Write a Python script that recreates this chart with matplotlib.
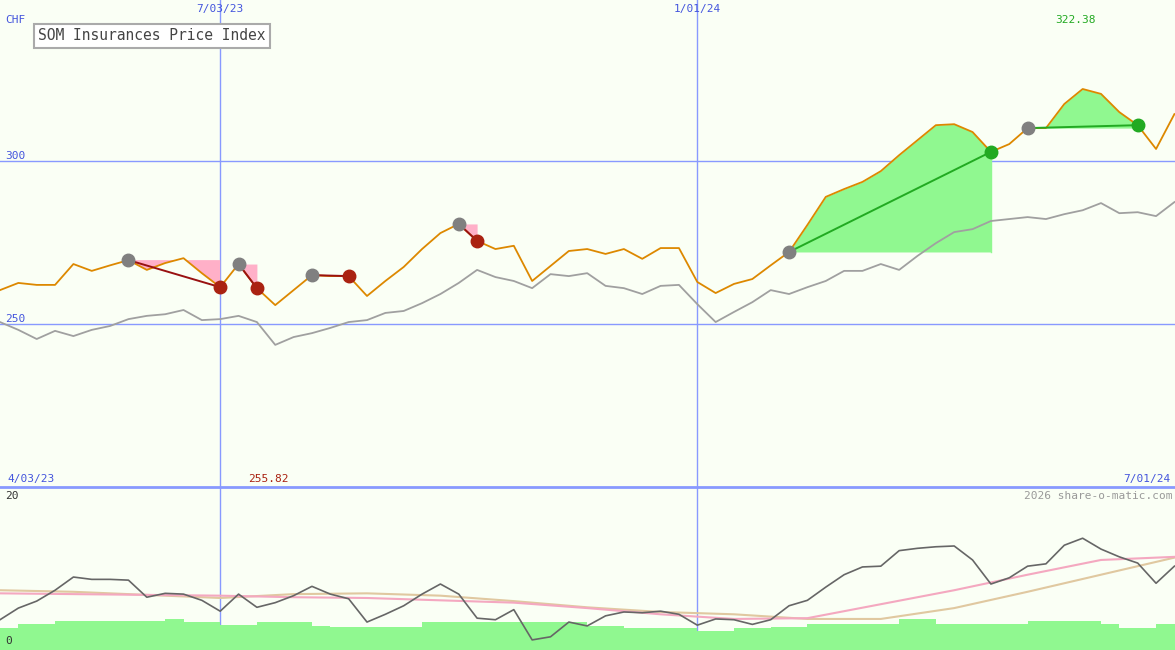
import matplotlib
matplotlib.use("Agg")
import matplotlib.pyplot as plt
import numpy as np

price = [260.4,262.6,262,262,268.4,266.3,268,269.6,266.6,268.7,270.2,265.6,261.3,268.4,261,255.8,
         260.4,265,264.7,264.7,258.6,263.2,267.5,273,277.9,280.7,275.5,273,274,263.2,267.8,272.4,
         273,271.5,273,270,273.3,273.3,262.9,259.5,262.3,263.8,268,272.1,280.4,289,291.4,293.6,
         296.9,301.8,306.4,311,311.3,308.9,302.8,305.2,310.1,310.1,317.5,322.1,320.6,315,311,303.7,314.4]
index = [250.6,248.2,245.4,247.9,246.3,248.2,249.4,251.5,252.5,253,254.3,251.2,251.5,252.5,250.6,243.6,
         246,247.2,248.8,250.6,251.2,253.4,254,256.4,259.2,262.6,266.6,264.4,263.2,261,265.3,264.7,
         265.6,261.7,261,259.2,261.7,262,256.1,250.6,253.7,256.7,260.4,259.2,261.3,263.2,266.3,266.3,
         268.4,266.6,270.9,274.8,278.2,279.1,281.6,282.2,282.8,282.2,283.7,284.9,287.1,284,284.3,283.1,287.4]
# trades: (entry index, exit index)
trades = [(7,12),(13,14),(17,19),(25,26),(43,54),(56,62)]

osc = [3.9,5.4,6.3,7.7,9.4,9.1,9.1,9.0,6.8,7.3,7.2,6.4,5.0,7.2,5.5,6.1,7.0,8.2,7.2,6.6,3.6,4.6,5.7,
       7.2,8.5,7.2,4.1,3.9,5.2,1.3,1.7,3.6,3.1,4.4,4.9,4.8,5.0,4.6,3.2,4.0,3.9,3.3,3.9,5.7,6.4,8.1,
       9.7,10.7,10.8,12.8,13.1,13.3,13.4,11.6,8.5,9.3,10.8,11.1,13.5,14.4,13.0,12.0,11.2,8.6,10.8]
avg_idx = [0,4,8,12,16,20,24,28,32,36,40,44,48,52,56,60,64]
pink_avg = [7.3,7.2,7.1,7.0,6.8,6.7,6.4,6.1,5.4,4.6,4.0,4.1,5.9,7.7,9.7,11.6,12.0]
tan_avg = [7.7,7.5,7.1,6.7,7.2,7.3,7.0,6.3,5.5,4.9,4.6,4.0,4.0,5.4,7.5,9.7,11.9]
vol = [2.8,3.3,3.3,3.7,3.7,3.7,3.7,3.7,3.7,4.0,3.6,3.6,3.2,3.2,3.6,3.6,3.6,3.1,3.0,3.0,3.0,3.0,3.0,
       3.6,3.6,3.6,3.6,3.6,3.6,3.6,3.6,3.6,3.1,3.1,2.8,2.8,2.8,2.8,2.4,2.4,2.8,2.8,3.0,3.0,3.3,3.3,
       3.3,3.3,3.3,4.0,4.0,3.3,3.3,3.3,3.3,3.3,3.7,3.7,3.7,3.7,3.3,2.8,2.8,3.3,3.3]

W, H = 1175, 650
bg = "#fafff5"
blue = "#8899ff"
tblue = "#4455dd"
mono = "DejaVu Sans Mono"
fig = plt.figure(figsize=(W/100, H/100), dpi=100, facecolor=bg)
ax1 = fig.add_axes([0, 163/H, 1, 487/H], facecolor=bg)
ax2 = fig.add_axes([0, 0, 1, 163/H], facecolor=bg)
xr = (0, 1175/18.35)
x = np.arange(len(price))
p = np.array(price)
for ax in (ax1, ax2):
    ax.set_xlim(*xr)
    for s in ax.spines.values():
        s.set_visible(False)
    ax.set_xticks([]); ax.set_yticks([])
    ax.axvline(12, color=blue, lw=1, zorder=1)
    ax.axvline(38, color=blue, lw=1, zorder=1)
ax1.set_ylim(200, 349.4)
ax2.set_ylim(0, 21)
for v in (300, 250):
    ax1.axhline(v, color=blue, lw=1, zorder=1)
ax2.axhline(21, color=blue, lw=2, zorder=1, clip_on=False)

for e, xx in trades:
    seg = slice(e, xx+1)
    win = price[xx] > price[e]
    if win:
        ax1.fill_between(x[seg], p[seg], price[e], where=p[seg] >= price[e], interpolate=True,
                         color="#90f890", lw=0, zorder=2)
        ax1.plot([xx, xx], [price[e], price[xx]], color="#90f890", lw=1, zorder=2)
    else:
        ax1.fill_between(x[seg], p[seg], price[e], where=p[seg] <= price[e], interpolate=True,
                         color="#ffb0c8", lw=0, zorder=2)
ax1.plot(x, index, color="#a0a0a0", lw=1.3, zorder=3)
ax1.plot(x, price, color="#dd8800", lw=1.3, zorder=4)
for e, xx in trades:
    win = price[xx] > price[e]
    lc = "#22aa22" if win else "#991111"
    ax1.plot([e, xx], [price[e], price[xx]], color=lc, lw=1.4, zorder=5)
    ax1.plot(e, price[e], 'o', color="#808080", ms=9, zorder=6)
    ax1.plot(xx, price[xx], 'o', color="#22aa22" if win else "#aa2211", ms=9, zorder=6)

ax2.bar(np.arange(len(vol)), vol, width=1, align='edge', color="#90f890", lw=0, zorder=2)
ax2.plot(avg_idx, tan_avg, color="#e0c8a0", lw=1.5, zorder=3)
ax2.plot(avg_idx, pink_avg, color="#f4a8c0", lw=1.5, zorder=3)
ax2.plot(np.arange(len(osc)), osc, color="#666666", lw=1.2, zorder=4)

def ft(px, py, s, **kw):
    fig.text(px/W, 1-py/H, s, family=mono, fontsize=8, va='center', **kw)
ft(5, 20, "CHF", color=tblue)
ft(5, 156, "300", color=tblue)
ft(5, 319, "250", color=tblue)
ft(220, 9, "7/03/23", color=tblue, ha='center')
ft(697, 9, "1/01/24", color=tblue, ha='center')
ft(7, 479, "4/03/23", color=tblue)
ft(1170, 479, "7/01/24", color=tblue, ha='right')
ft(1075, 20, "322.38", color="#22aa22", ha='center')
ft(268, 479, "255.82", color="#aa2211", ha='center')
ft(5, 496, "20", color="#333333")
ft(5, 641, "0", color="#333333")
ft(1172, 496, "2026 share-o-matic.com", color="#999999", ha='right')
fig.text(38/W, 1-36/H, "SOM Insurances Price Index", family=mono, fontsize=10.5, va='center',
         color="#444444", bbox=dict(boxstyle="square,pad=0.3", fc="white", ec="#aaaaaa", lw=1.5))
fig.savefig("out.png", dpi=100, facecolor=bg)
